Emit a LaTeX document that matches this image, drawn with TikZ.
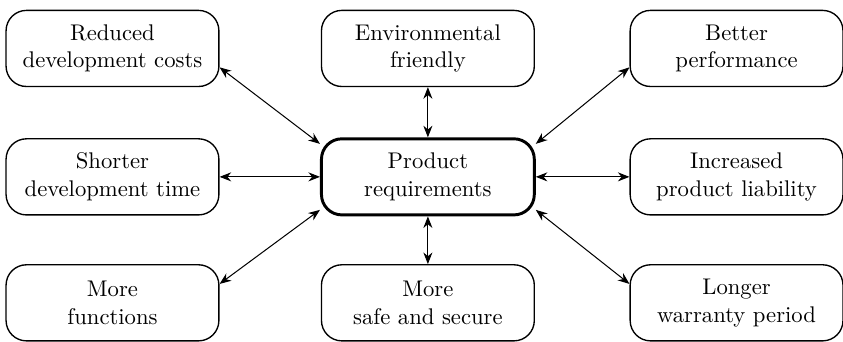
\documentclass[tikz,border=0pt]{standalone}
\usetikzlibrary{arrows.meta}
\tikzset{
  rbox/.style={draw,line width=.6pt,rounded corners=9pt,minimum width=3.30cm,
               minimum height=1.18cm,align=center,font=\fontsize{10}{12.2}\selectfont,
               inner sep=2pt},
  hub/.style ={rbox,line width=1.3pt},
  dar/.style ={{Stealth[length=1.8mm,width=1.4mm]}-{Stealth[length=1.8mm,width=1.4mm]},
               line width=.45pt},
}
\begin{document}
\begin{tikzpicture}
  \useasboundingbox (0,0) rectangle (13.07,5.30);
  % centre
  \node[hub] (req) at (6.634,2.558) {Product\\requirements};
  % top row
  \node[rbox] (cost) at (1.744,4.549) {Reduced\\development costs};
  \node[rbox] (env)  at (6.634,4.549) {Environmental\\friendly};
  \node[rbox] (perf) at (11.42,4.549) {Better\\performance};
  % middle row
  \node[rbox] (time) at (1.744,2.558) {Shorter\\development time};
  \node[rbox] (liab) at (11.42,2.558) {Increased\\product liability};
  % bottom row
  \node[rbox] (func) at (1.744,0.605) {More\\functions};
  \node[rbox] (safe) at (6.634,0.605) {More\\safe and secure};
  \node[rbox] (warr) at (11.42,0.605) {Longer\\warranty period};
  % arrows to and from the centre
  \draw[dar] (cost.-10) -- (req.163);
  \draw[dar] (env.south) -- (req.north);
  \draw[dar] (perf.190) -- (req.17);
  \draw[dar] (time.east) -- (req.west);
  \draw[dar] (liab.west) -- (req.east);
  \draw[dar] (func.10) -- (req.197);
  \draw[dar] (safe.north) -- (req.south);
  \draw[dar] (warr.170) -- (req.-17);
\end{tikzpicture}
\end{document}
